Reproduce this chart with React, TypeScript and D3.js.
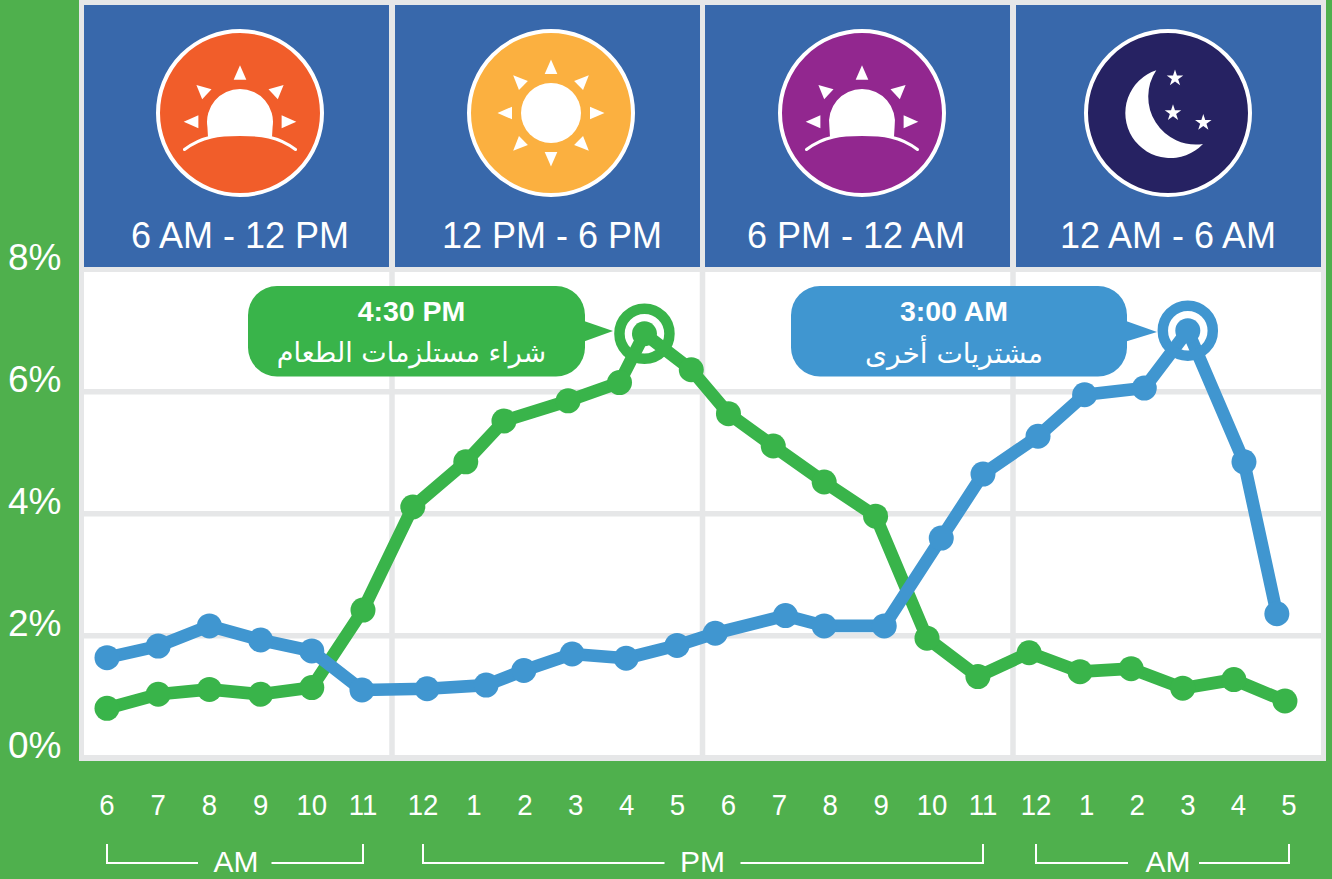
import React, { useEffect, useRef } from 'react';
import * as d3 from 'd3';

// hours counted from 6 AM; the printed points sit a little off the hour labels
const hourLabels = ['6', '7', '8', '9', '10', '11', '12', '1', '2', '3', '4', '5', '6', '7', '8', '9', '10', '11', '12', '1', '2', '3', '4', '5'];
const yTicks = [0, 2, 4, 6, 8];

const groceryHours = [0, 1, 2, 3, 4, 5, 5.83, 6.84, 7.59, 8.85, 9.86, 10.35, 11.27, 12, 12.88, 13.88, 14.89, 15.9, 16.9, 17.87, 18.87, 19.88, 20.9, 21.91, 22.92];
const groceryValues = [0.81, 1.04, 1.12, 1.04, 1.15, 2.42, 4.11, 4.85, 5.52, 5.85, 6.15, 6.95, 6.36, 5.64, 5.11, 4.52, 3.96, 1.96, 1.33, 1.72, 1.41, 1.46, 1.14, 1.28, 0.93];

const otherHours = [0, 1, 2, 3, 4, 4.98, 6.08, 7.24, 7.98, 8.93, 9.99, 10.99, 11.74, 13.12, 13.88, 15.06, 16.18, 17, 18.04, 18.96, 20.14, 21, 22.11, 22.76];
const otherValues = [1.64, 1.83, 2.16, 1.93, 1.75, 1.11, 1.13, 1.19, 1.43, 1.7, 1.63, 1.84, 2.04, 2.33, 2.16, 2.16, 3.6, 4.65, 5.27, 5.95, 6.06, 7, 4.85, 2.36];

const panelLabels = ['6 AM - 12 PM', '12 PM - 6 PM', '6 PM - 12 AM', '12 AM - 6 AM'];
const panelColours = ['#f15d2a', '#fbb040', '#92278f', '#262262'];
const panelIcons = ['sunrise', 'sun', 'sunrise', 'moon'];
const panelLefts = [84, 395, 705, 1016];
const iconCentres = [240, 551, 862, 1168];
const labelCentres = [240, 552, 856, 1168];
const gridXs = [392, 702.5, 1013];

const GREEN_BG = '#4fb04d';
const GREEN = '#39b44a';
const BLUE = '#4096d0';
const GREY = '#e6e7e8';
const SANS = '"Liberation Sans", Arial, sans-serif';

const App = () => {
  const ref = useRef<SVGSVGElement>(null);

  useEffect(() => {
    const svg = d3.select(ref.current);
    svg.selectAll('*').remove();

    // The hour axis has small jumps at the noon and midnight breaks
    const x = d3.scaleLinear().domain([0, 5, 6, 17, 18, 23]).range([107, 363, 423, 983, 1036, 1289]);
    const y = d3.scaleLinear().domain([0, 8]).range([757.7, 269.7]);

    svg.append('rect').attr('width', 1332).attr('height', 879).attr('fill', GREEN_BG);
    svg.append('rect').attr('x', 79).attr('y', 0).attr('width', 1247).attr('height', 761).attr('fill', GREY);
    svg.append('rect').attr('x', 84).attr('y', 272).attr('width', 1237).attr('height', 483).attr('fill', 'white');

    // Gridlines
    svg.selectAll('.hgrid')
      .data(yTicks.slice(1, 4))
      .enter()
      .append('line')
      .attr('x1', 84)
      .attr('x2', 1321)
      .attr('y1', d => y(d))
      .attr('y2', d => y(d))
      .attr('stroke', GREY)
      .attr('stroke-width', 5.5);
    svg.selectAll('.vgrid')
      .data(gridXs)
      .enter()
      .append('line')
      .attr('x1', d => d)
      .attr('x2', d => d)
      .attr('y1', 272)
      .attr('y2', 755)
      .attr('stroke', GREY)
      .attr('stroke-width', 5.5);

    // Header panels
    const panels = svg.selectAll('.panel').data(panelLabels).enter().append('g');
    panels.append('rect')
      .attr('x', (_, i) => panelLefts[i])
      .attr('y', 5)
      .attr('width', 305)
      .attr('height', 262)
      .attr('fill', '#3868ab');
    panels.append('text')
      .attr('x', (_, i) => labelCentres[i])
      .attr('y', 248)
      .attr('text-anchor', 'middle')
      .attr('font-family', SANS)
      .attr('font-size', 36)
      .attr('fill', 'white')
      .text(d => d);

    panelIcons.forEach((icon, i) => {
      const g = svg.append('g').attr('transform', `translate(${iconCentres[i]}, 113)`);
      g.append('circle').attr('r', 82).attr('fill', panelColours[i]).attr('stroke', 'white').attr('stroke-width', 4);
      if (icon === 'sunrise') {
        g.append('path').attr('fill', 'white').attr('d', 'M-32,24 L-32.6,14 A33,33 0 1 1 32.6,14 L32,24 C20,21.5 -20,21.5 -32,24 Z');
        g.append('path')
          .attr('fill', 'none')
          .attr('stroke', 'white')
          .attr('stroke-width', 3)
          .attr('stroke-linecap', 'round')
          .attr('d', 'M-55.5,36.5 C-38,23 -20,21.5 0,21.5 C20,21.5 38,23 55.5,36.5');
        const rays = ['M0,-47.7 L-6.3,-33.3 L6.3,-33.3 Z', 'M-43.6,-28 L-28.5,-23.7 L-37.8,-13.7 Z', 'M43.6,-28 L28.5,-23.7 L37.8,-13.7 Z', 'M-56.3,8.7 L-41.6,2.3 L-41.6,15.3 Z', 'M56.3,8.7 L41.6,2.3 L41.6,15.3 Z'];
        g.selectAll('.ray').data(rays).enter().append('path').attr('fill', 'white').attr('d', d => d);
      } else if (icon === 'sun') {
        g.append('circle').attr('r', 30).attr('fill', 'white');
        g.selectAll('.ray')
          .data(d3.range(8))
          .enter()
          .append('path')
          .attr('fill', 'white')
          .attr('d', 'M0,-53.5 L-6.3,-39 L6.3,-39 Z')
          .attr('transform', d => `rotate(${d * 45})`);
      } else {
        g.append('path').attr('fill', 'white').attr('d', 'M-11.7,-42.7 A45,45 0 1 0 35,31 A47.7,47.7 0 0 1 -11.7,-42.7 Z');
        const star = d3.symbol().type(d3.symbolStar).size(85)();
        g.selectAll('.star')
          .data([[7, -34.7], [5, 0], [35.3, 9.7]])
          .enter()
          .append('path')
          .attr('fill', 'white')
          .attr('d', star)
          .attr('transform', d => `translate(${d[0]}, ${d[1]})`);
      }
    });

    // Draws one series: thick line, round markers, ring on its peak
    const drawSeries = (hours: number[], values: number[], colour: string) => {
      const points = hours.map((h, i) => [x(h), y(values[i])] as [number, number]);
      svg.append('path')
        .attr('d', d3.line()(points))
        .attr('fill', 'none')
        .attr('stroke', colour)
        .attr('stroke-width', 12.7)
        .attr('stroke-linejoin', 'round');
      svg.append('g')
        .selectAll('circle')
        .data(points)
        .enter()
        .append('circle')
        .attr('cx', d => d[0])
        .attr('cy', d => d[1])
        .attr('r', 12.5)
        .attr('fill', colour);
      const peak = points[d3.maxIndex(values)];
      svg.append('circle')
        .attr('cx', peak[0])
        .attr('cy', peak[1])
        .attr('r', 25)
        .attr('fill', 'none')
        .attr('stroke', colour)
        .attr('stroke-width', 10.5);
    };
    drawSeries(groceryHours, groceryValues, GREEN);
    drawSeries(otherHours, otherValues, BLUE);

    // Callouts
    const drawCallout = (left: number, right: number, tipX: number, tipY: number, colour: string, time: string, label: string, labelY: number, labelSize: number) => {
      const g = svg.append('g');
      g.append('rect')
        .attr('x', left)
        .attr('y', 286)
        .attr('width', right - left)
        .attr('height', 90.5)
        .attr('rx', 29)
        .attr('fill', colour);
      g.append('path')
        .attr('d', `M${right - 1},321 L${tipX},${tipY} L${right - 1},341.5 Z`)
        .attr('fill', colour);
      const mid = (left + right) / 2 - 5;
      g.append('text')
        .attr('x', mid)
        .attr('y', 321)
        .attr('text-anchor', 'middle')
        .attr('font-family', SANS)
        .attr('font-weight', 'bold')
        .attr('font-size', 28.5)
        .attr('fill', 'white')
        .text(time);
      g.append('text')
        .attr('x', mid)
        .attr('y', labelY)
        .attr('text-anchor', 'middle')
        .attr('font-family', '"DejaVu Sans", sans-serif')
        .attr('font-size', labelSize)
        .attr('fill', 'white')
        .text(label);
    };
    drawCallout(248, 585, 613, 331, GREEN, '4:30 PM', 'شراء مستلزمات الطعام', 362, 27);
    drawCallout(791, 1127, 1157, 332, BLUE, '3:00 AM', 'مشتريات أخرى', 363, 28);

    // Y tick labels
    svg.selectAll('.ytick')
      .data(yTicks)
      .enter()
      .append('text')
      .attr('x', 8)
      .attr('y', d => y(d) + 0.5)
      .attr('font-family', SANS)
      .attr('font-size', 37)
      .attr('fill', 'white')
      .text(d => `${d}%`);

    // Hour labels, slightly condensed like the original lettering
    svg.selectAll('.hour')
      .data(hourLabels)
      .enter()
      .append('text')
      .attr('transform', (_, i) => `translate(${x(i)}, 815) scale(0.92, 1)`)
      .attr('text-anchor', 'middle')
      .attr('font-family', SANS)
      .attr('font-size', 30)
      .attr('fill', 'white')
      .text(d => d);

    // AM / PM brackets
    const brackets = [
      { from: 0, to: 5, label: 'AM', labelX: 236, gapLeft: 198, gapRight: 271.5 },
      { from: 6, to: 17, label: 'PM', labelX: 702.5, gapLeft: 664.5, gapRight: 740.5 },
      { from: 18, to: 23, label: 'AM', labelX: 1168, gapLeft: 1128, gapRight: 1199 },
    ];
    brackets.forEach(b => {
      const x0 = x(b.from);
      const x1 = x(b.to);
      svg.append('path')
        .attr('d', `M${x0},844 V863 H${b.gapLeft} M${b.gapRight},863 H${x1} V844`)
        .attr('fill', 'none')
        .attr('stroke', 'white')
        .attr('stroke-width', 2);
      svg.append('text')
        .attr('x', b.labelX)
        .attr('y', 872)
        .attr('text-anchor', 'middle')
        .attr('font-family', SANS)
        .attr('font-size', 30)
        .attr('fill', 'white')
        .text(b.label);
    });
  }, []);

  return <svg ref={ref} width={1332} height={879} style={{ position: 'absolute', left: 0, top: 0 }} />;
};

export default App;
